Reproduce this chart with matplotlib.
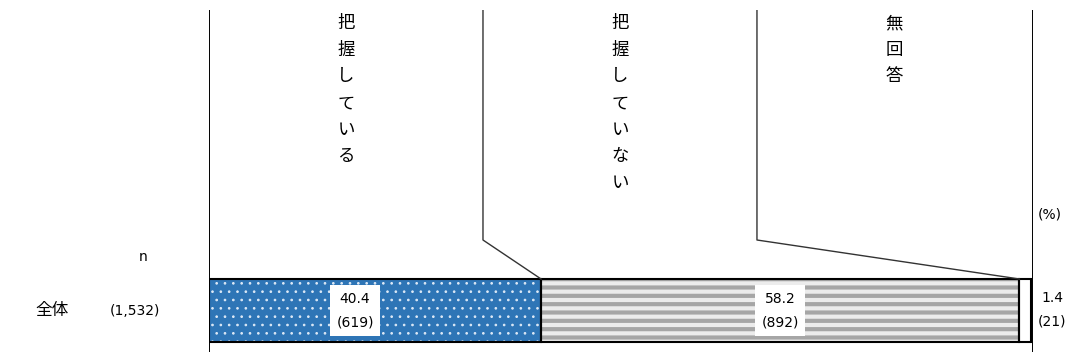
import matplotlib
matplotlib.use("Agg")
import matplotlib.pyplot as plt

plt.rcParams['font.family'] = ['DejaVu Sans', 'Noto Sans CJK JP']
JP = ['Noto Sans CJK JP', 'DejaVu Sans']

# データ
categories = ["把握している", "把握していない", "無回答"]
percents = [40.4, 58.2, 1.4]
counts = [619, 892, 21]
row_label = "全体"
row_n = "(1,532)"

W, H = 1072, 358
fig = plt.figure(figsize=(W / 100, H / 100), dpi=100)

def fx(px):
    return px / W

def fy(py):
    return 1 - py / H

# 軸: x は 0-100%, y はピクセル換算 (下端 352px, 上端 10px)
ax = fig.add_axes([fx(209), fy(352), fx(1033) - fx(209), fy(10) - fy(352)])
ax.set_xlim(0, 100.25)
ax.set_ylim(0, 342)
ax.axis('off')
ax.plot([0, 0], [0, 342], color='black', lw=1.4)
ax.plot([100.25, 100.25], [-6, 342], color='black', lw=1.4)

bar_y, bar_h = 41.5, 63
lefts = [0, percents[0], percents[0] + percents[1]]

# 把握している: 青地に白ドット
with plt.rc_context({'hatch.linewidth': 0.7}):
    ax.barh(bar_y, percents[0], left=lefts[0], height=bar_h,
            color='#2e75b6', edgecolor='#dde9f6', hatch='..', lw=0)
# 把握していない: グレーの横縞
with plt.rc_context({'hatch.linewidth': 3.0}):
    ax.barh(bar_y, percents[1], left=lefts[1], height=bar_h,
            color='#ececec', edgecolor='#a6a6a6', hatch='--', lw=0)
# 無回答: 白
ax.barh(bar_y, percents[2], left=lefts[2], height=bar_h, color='white', lw=0)
# 枠線
ax.barh(bar_y, percents, left=lefts, height=bar_h, fill=False,
        edgecolor='black', lw=1.5)

# 区切り線（引き出し線）
top_y, knee_y = 342, 112
for i, sep in enumerate([100 / 3, 200 / 3]):
    end = sum(percents[:i + 1])
    ax.plot([sep, sep, end], [top_y, knee_y, bar_y + bar_h / 2],
            color='#333333', lw=1)

# 項目名（縦書き）
for i, cat in enumerate(categories):
    ax.text((i + 0.5) * 100 / 3, 338, "\n".join(cat), ha='center', va='top',
            fontsize=12.5, linespacing=1.62, family=JP)

# 数値ラベル
label_pos = [0.44, 0.5]
for i in range(2):
    x = lefts[i] + percents[i] * label_pos[i]
    ax.text(x, bar_y, f"{percents[i]:.1f}\n({counts[i]})", ha='center',
            va='center', fontsize=10, linespacing=1.9,
            bbox=dict(boxstyle='square,pad=0.45', fc='white', ec='none'))
fig.text(fx(1052), fy(310), f"{percents[2]:.1f}\n({counts[2]})", ha='center',
         va='center', fontsize=10, linespacing=1.9)

fig.text(fx(1050), fy(215), "(%)", ha='center', va='center', fontsize=10)
fig.text(fx(143), fy(257), "n", ha='center', va='center', fontsize=10)
fig.text(fx(52), fy(311), row_label, ha='center', va='center', fontsize=12,
         family=JP)
fig.text(fx(135), fy(311), row_n, ha='center', va='center', fontsize=10)

fig.savefig("out.png", dpi=100)
